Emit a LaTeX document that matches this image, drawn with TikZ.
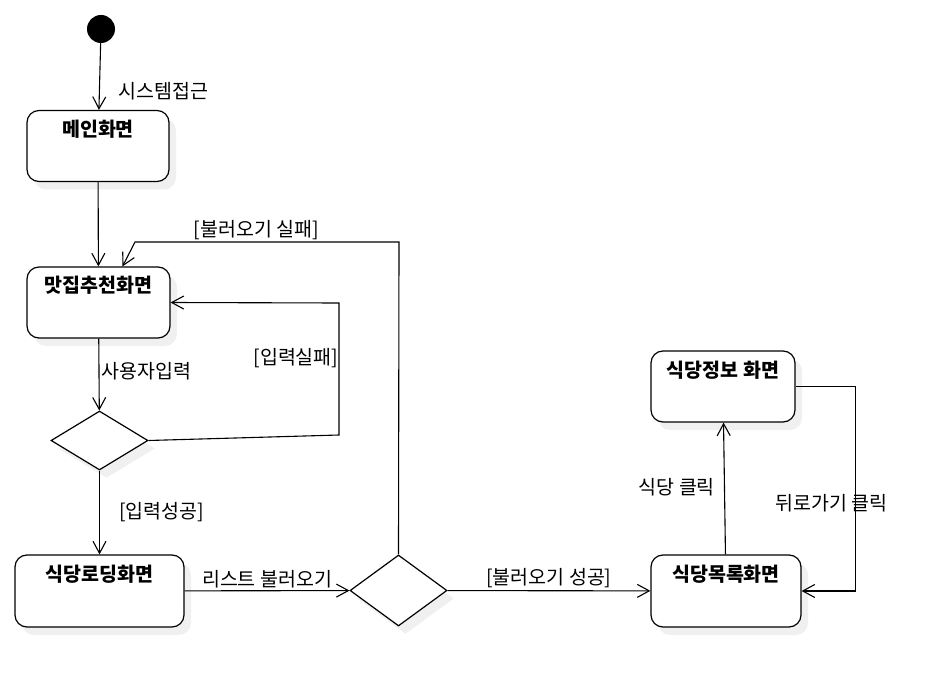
\documentclass[tikz,border=0pt]{standalone}
\usepackage{fontspec}
\setmainfont{Noto Sans CJK KR}
\usetikzlibrary{arrows.meta,shapes.geometric,shadows}

\tikzset{
  screen/.style={rectangle, draw, rounded corners=12pt, line width=1.2pt, fill=white,
    minimum height=71pt, inner ysep=7pt, text height=19pt, text depth=38pt,
    font=\fontsize{19.5}{21}\selectfont\bfseries,
    drop shadow={shadow xshift=7pt, shadow yshift=-8pt, opacity=0.12}},
  choice/.style={diamond, draw, line width=1.2pt, fill=white, inner sep=0pt,
    drop shadow={shadow xshift=7pt, shadow yshift=-8pt, opacity=0.12}},
  flow/.style={->, line width=1.1pt},
  cond/.style={font=\fontsize{19.5}{21}\selectfont, inner sep=2pt},
  >={Straight Barb[length=12pt,width=13pt]}
}

\begin{document}
\begin{tikzpicture}[x=1pt, y=-1pt]
    \useasboundingbox (0,0) rectangle (951,687);

    \node[circle, fill=black, minimum size=28pt, inner sep=0pt] (start) at (101,29) {};
    \node[screen, minimum width=142pt] (main) at (98,146) {메인화면};
    \node[screen, minimum width=143pt] (recommend) at (98.5,302.5) {맛집추천화면};
    \node[choice, minimum width=97pt, minimum height=59pt] (input) at (99.5,440.5) {};
    \node[screen, minimum width=169pt, minimum height=72pt] (loading) at (99.5,591) {식당로딩화면};
    \node[choice, minimum width=97pt, minimum height=71pt] (fetch) at (398.5,590.5) {};
    \node[screen, minimum width=150pt, minimum height=72pt] (list) at (726,591) {식당목록화면};
    \node[screen, minimum width=144pt] (info) at (723,386.5) {식당정보 화면};

    \foreach \source/\dest/\label/\posval/\anchorval/\xshiftval in {start/main/시스템접근/0.72/west/17,
        main/recommend//0.5/center/0,
        recommend/input/사용자입력/0.45/west/0,
        input/loading/[입력성공]/0.5/west/17,
        loading/fetch/리스트 불러오기/0.5/south/0,
        fetch/list/[불러오기 성공]/0.5/south/0,
        list/info/식당 클릭/0.51/east/-7}
      \draw[flow] (\source) -- node[cond, pos=\posval, anchor=\anchorval, xshift=\xshiftval] {\label} (\dest);

    \draw[flow] (input.east) -- (339,435) -- node[cond, pos=0.58, anchor=east, inner sep=0pt] {[입력실패]} (339,303) -- (recommend.east);
    \draw[flow] (fetch.north) -- (399,242) -- node[cond, pos=0.54, anchor=south] {[불러오기 실패]} (135,242) -- ([xshift=24pt]recommend.north);
    \draw[flow] (info.east) -- (855.5,386.5) -- node[cond, pos=0.57, xshift=-24pt] {뒤로가기 클릭} (855.5,591) -- (list.east);
\end{tikzpicture}
\end{document}
